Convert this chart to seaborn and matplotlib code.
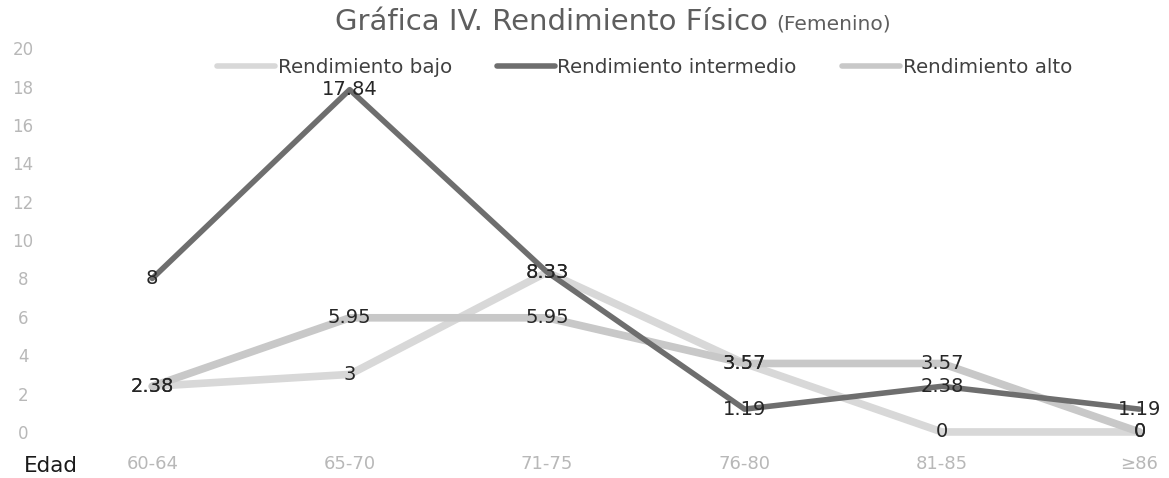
import matplotlib
matplotlib.use("Agg")
import matplotlib.pyplot as plt
import seaborn as sns
import pandas as pd

categories = ["60-64", "65-70", "71-75", "76-80", "81-85", "≥86"]
series_names = ["Rendimiento bajo", "Rendimiento intermedio", "Rendimiento alto"]
bajo = [2.38, 3, 8.33, 3.57, 0, 0]
intermedio = [8, 17.84, 8.33, 1.19, 2.38, 1.19]
alto = [2.38, 5.95, 5.95, 3.57, 3.57, 0]
yticks = [0, 2, 4, 6, 8, 10, 12, 14, 16, 18, 20]

sns.set_theme(style="white")
plt.rcParams["font.family"] = ["DejaVu Sans"]

rows = []
for name, vals in zip(series_names, [bajo, intermedio, alto]):
    for i, (c, v) in enumerate(zip(categories, vals)):
        rows.append({"idx": i, "Edad": c, "valor": v, "serie": name})
df = pd.DataFrame(rows)

palette = {"Rendimiento bajo": "#d8d8d8",
           "Rendimiento intermedio": "#6e6e6e",
           "Rendimiento alto": "#c8c8c8"}
widths = {"Rendimiento bajo": 5.5, "Rendimiento intermedio": 4, "Rendimiento alto": 5.5}

fig = plt.figure(figsize=(11.69, 4.78), dpi=100)
ax = fig.add_axes([0.034, 0.069, 0.966, 0.847])

sns.lineplot(data=df, x="idx", y="valor", hue="serie", hue_order=series_names,
             palette=palette, ax=ax, legend=True, estimator=None, sort=False)
for line, name in zip(ax.get_lines(), series_names):
    line.set_linewidth(widths[name])
    line.set_solid_capstyle("round")
    line.set_clip_on(False)
ax.get_lines()[1].set_zorder(5)

for name, vals in zip(series_names, [bajo, intermedio, alto]):
    for i, v in enumerate(vals):
        ax.text(i, v, f"{v:g}", ha="center", va="center", fontsize=14,
                color="#262626", zorder=10)

ax.set_xlim(-0.57, 5.15)
ax.set_ylim(-0.68, 20.42)
ax.set_xticks(range(len(categories)))
ax.set_xticklabels(categories)
ax.set_yticks(yticks)
ax.set_yticklabels([str(t) for t in yticks])
ax.tick_params(axis="both", length=0, colors="#b8b8b8")
ax.tick_params(axis="x", pad=7, labelsize=13)
ax.tick_params(axis="y", pad=12, labelsize=12)
for lab in ax.get_yticklabels():
    lab.set_horizontalalignment("center")
ax.set_xlabel("")
ax.set_ylabel("")
for s in ax.spines.values():
    s.set_visible(False)

handles, labels = ax.get_legend_handles_labels()
ax.get_legend().remove()
for h, name in zip(handles, labels):
    h.set_linewidth(4)
leg = fig.legend(handles, labels, ncol=3, loc="center left",
                 bbox_to_anchor=(217 / 1169, 1 - 67 / 478),
                 frameon=False, fontsize=14.3, handlelength=2.9, handletextpad=0.15,
                 columnspacing=2.27, borderpad=0, borderaxespad=0)
for t in leg.get_texts():
    t.set_color("#404040")

title = fig.text(335 / 1169, 1 - 30 / 478, "Gráfica IV. Rendimiento Físico", fontsize=21,
                 color="#5e5e5e", ha="left", va="baseline")
fig.canvas.draw()
bb = title.get_window_extent(renderer=fig.canvas.get_renderer())
fig.text((bb.x1 + 8) / 1169, 1 - 30 / 478, "(Femenino)", fontsize=14.5, color="#5e5e5e",
         ha="left", va="baseline")
fig.text(24 / 1169, 1 - 466 / 478, "Edad", fontsize=15.5, color="#1a1a1a",
         ha="left", va="center")

fig.savefig("out.png", dpi=100, facecolor="white")
